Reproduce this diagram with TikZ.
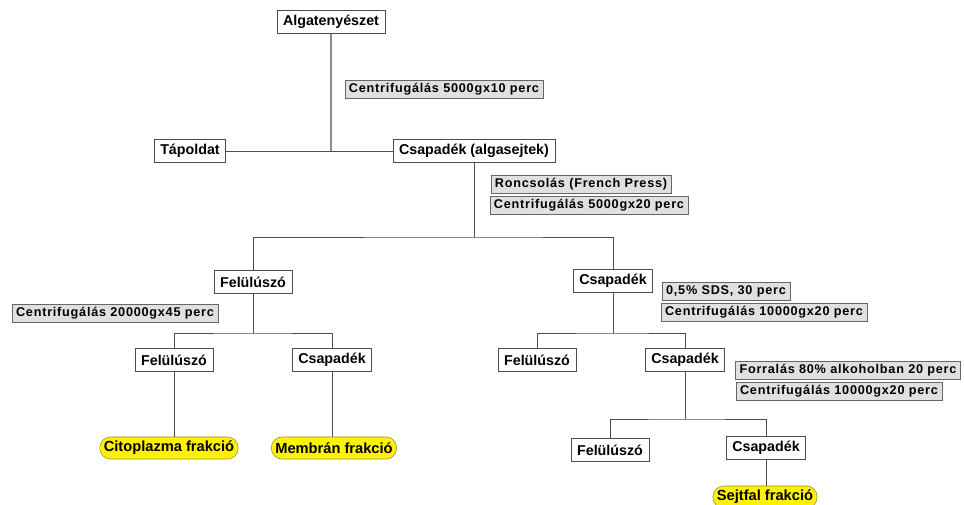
\documentclass[tikz,border=0pt]{standalone}
\usepackage{fontspec}
\setmainfont{Liberation Sans}
\newfontfamily\grayfont[LetterSpace=6]{Liberation Sans}
\usetikzlibrary{positioning}

\begin{document}
\begin{tikzpicture}[x=0.75pt, y=-0.75pt,
    box/.style={draw=black!70, fill=white, inner xsep=4.5pt, inner ysep=0pt, minimum height=17.5pt, font=\fontsize{10.7}{12}\selectfont\bfseries},
    proc/.style={draw=black!60, fill=black!12, inner xsep=3pt, inner ysep=0pt, minimum height=13.5pt, font=\grayfont\fontsize{9.5}{11}\selectfont\bfseries},
    frac/.style={draw=black!50!yellow, fill=yellow, rounded corners=8pt, inner xsep=3pt, inner ysep=0pt, minimum height=16.5pt, font=\fontsize{11}{12}\selectfont\bfseries},
    line/.style={draw=black!70, line width=0.7pt}
]
\useasboundingbox (0,0) rectangle (964,505);

% First centrifugation
\node[box] (alga) at (331, 22) {Algatenyészet};
\node[proc] (c1) at (444, 89) {Centrifugálás 5000gx10 perc};
\node[box] (tap) at (190, 151) {Tápoldat};
\node[box] (csap0) at (474, 151) {Csapadék (algasejtek)};

% Breaking the cells
\node[proc] (ronc) at (581, 184) {Roncsolás (French Press)};
\node[proc] (c2) at (589, 205) {Centrifugálás 5000gx20 perc};
\node[box] (fel1) at (253, 282) {Felülúszó};
\node[box] (csap1) at (613, 281) {Csapadék};

% Left branch
\node[proc] (c3) at (115, 313) {Centrifugálás 20000gx45 perc};
\node[box] (fel2) at (174, 360) {Felülúszó};
\node[box] (csap2) at (332, 360) {Csapadék};
\node[frac] (cito) at (169, 448) {Citoplazma frakció};
\node[frac] (memb) at (334, 448) {Membrán frakció};

% Right branch
\node[proc] (sds) at (726, 291) {0,5\% SDS, 30 perc};
\node[proc] (c4) at (764, 312) {Centrifugálás 10000gx20 perc};
\node[box] (fel3) at (537, 360) {Felülúszó};
\node[box] (csap3) at (685, 360) {Csapadék};
\node[proc] (forr) at (848, 370) {Forralás 80\% alkoholban 20 perc};
\node[proc] (c5) at (839, 391) {Centrifugálás 10000gx20 perc};
\node[box] (fel4) at (610, 450) {Felülúszó};
\node[box] (csap4) at (766, 448) {Csapadék};
\node[frac] (sejt) at (765, 497) {Sejtfal frakció};

% Fork levels
\coordinate (h1) at (0, 237);
\coordinate (h2) at (0, 333);
\coordinate (h3) at (0, 419);

% Connectors
\draw[line, draw=black!45, line width=1.2pt] (alga.south) -- (alga.south |- tap.east);
\draw[line] (tap.east) -- (csap0.west);
\draw[line] (csap0.south) -- (csap0.south |- h1);
\draw[line] (fel1.north) |- (csap0.south |- h1) -| (csap1.north);
\draw[line] (fel1.south) -- (fel1.south |- h2);
\draw[line] (fel2.north) |- (fel1.south |- h2) -| (csap2.north);
\draw[line] (fel2.south) -- (fel2.south |- cito.north);
\draw[line] (csap2.south) -- (csap2.south |- memb.north);
\draw[line] (csap1.south) -- (csap1.south |- h2);
\draw[line] (fel3.north) |- (csap1.south |- h2) -| (csap3.north);
\draw[line] (csap3.south) -- (csap3.south |- h3);
\draw[line] (fel4.north) |- (csap3.south |- h3) -| (csap4.north);
\draw[line] (csap4.south) -- (csap4.south |- sejt.north);

\end{tikzpicture}
\end{document}
